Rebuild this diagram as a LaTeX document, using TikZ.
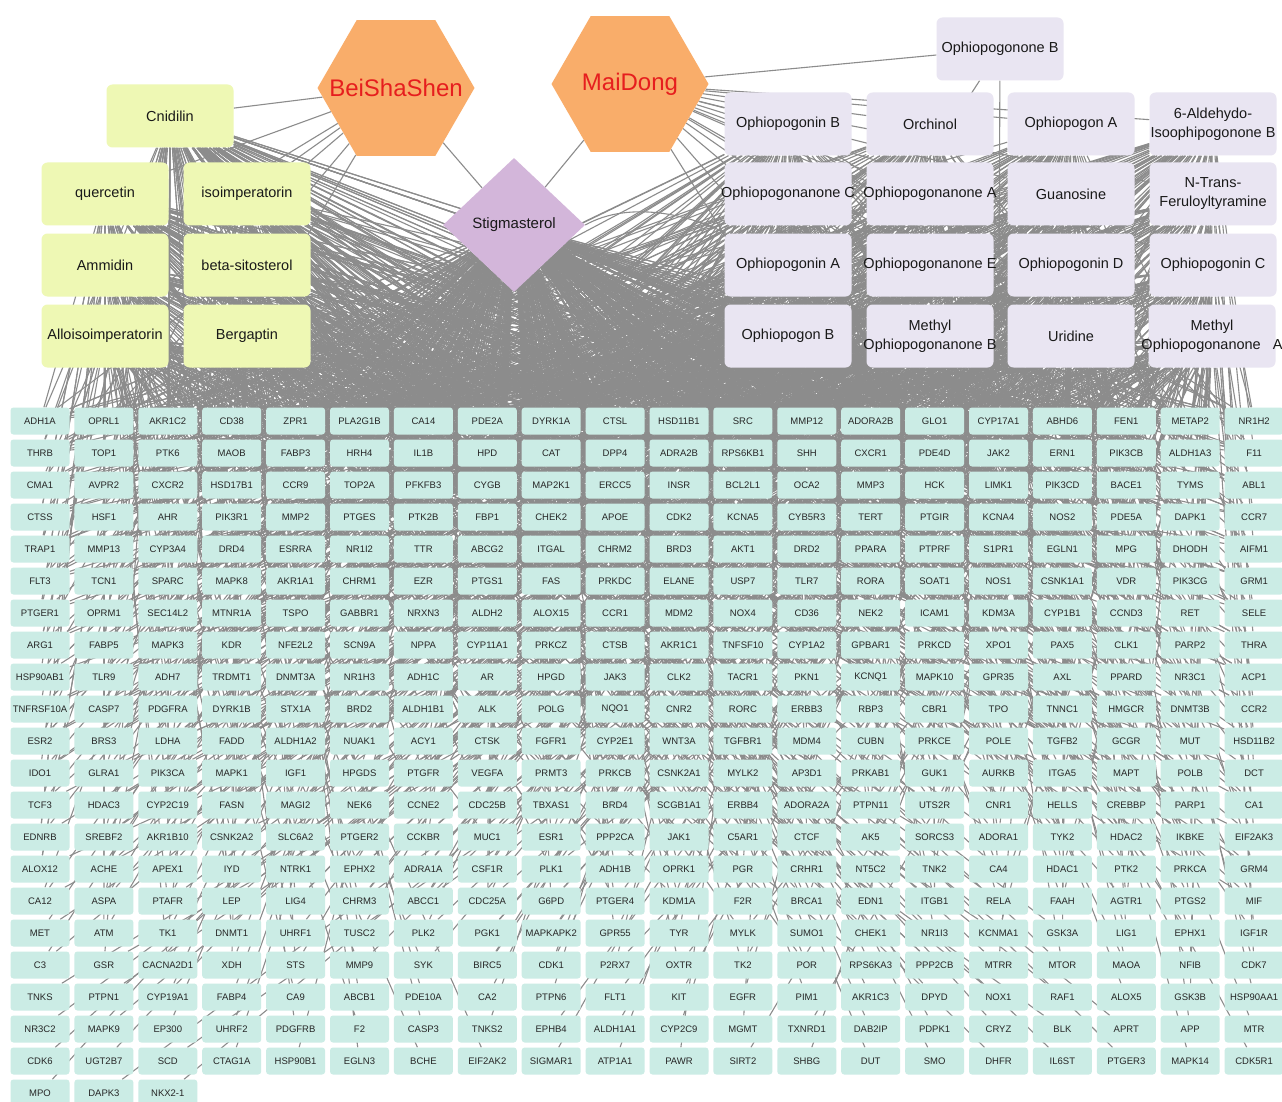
\documentclass[tikz,border=0pt]{standalone}
\usepackage{fontspec}
\setmainfont{Liberation Sans}
\usetikzlibrary{shapes.geometric,backgrounds}
\definecolor{herbfill}{HTML}{F9AD6A}
\definecolor{herbtext}{HTML}{E61E1E}
\definecolor{stigfill}{HTML}{D3B6DA}
\definecolor{yfill}{HTML}{EEF8B4}
\definecolor{pfill}{HTML}{E9E5F2}
\definecolor{gfill}{HTML}{CBECE5}
\definecolor{linkcol}{HTML}{8C8C8C}
\newcommand{\wide}[1]{\makebox[0pt][c]{#1}}
\newcommand{\cmpname}[1]{\ifcase#1 y0\or y1\or y2\or y3\or y4\or y5\or y6\or y0\or y1\or
  p1\or p2\or p3\or p4\or p5\or p6\or p7\or p8\or p9\or p10\or p11\or p12\or p13\or p14\or p15\or p16\or
  stig\or stig\or stig\or stig\or stig\else stig\fi}
\begin{document}
\begin{tikzpicture}
[x=1pt, y=-1pt,
gene/.style={rectangle, rounded corners=3pt, fill=gfill, text=black!85, minimum width=59pt, minimum height=27pt, inner sep=0pt, font=\fontsize{9.5}{11}\selectfont},
ybox/.style={rectangle, rounded corners=6pt, fill=yfill, text=black!90, minimum width=127pt, minimum height=63pt, inner sep=0pt, align=center, font=\fontsize{14.5}{19}\selectfont},
pbox/.style={ybox, fill=pfill},
herb/.style={regular polygon, regular polygon sides=6, fill=herbfill, minimum size=157pt, inner sep=0pt, text=herbtext, font=\fontsize{24}{28}\selectfont},
hub/.style={diamond, fill=stigfill, minimum width=142pt, minimum height=134pt, inner sep=0pt, text=black!90, font=\fontsize{15}{18}\selectfont},
link/.style={draw=linkcol, line width=1.1pt}]
\useasboundingbox (0,0) rectangle (1282,1102);

\node[herb] (bss) at (396,88) {\wide{BeiShaShen}};
\node[herb] (md) at (630,84) {\wide{MaiDong}};
\node[hub] (stig) at (514,225) {Stigmasterol};

\node[ybox] (y0) at (170,116) {Cnidilin};
\node[ybox] (y1) at (105,194) {quercetin};
\node[ybox] (y2) at (247,194) {isoimperatorin};
\node[ybox] (y3) at (105,265) {Ammidin};
\node[ybox] (y4) at (247,265) {beta-sitosterol};
\node[ybox] (y5) at (105,336) {Alloisoimperatorin};
\node[ybox] (y6) at (247,336) {Bergaptin};

\node[pbox] (p0) at (1000,49) {Ophiopogonone B};
\node[pbox] (p1) at (788,124) {Ophiopogonin B};
\node[pbox] (p2) at (930,124) {Orchinol};
\node[pbox] (p3) at (1071,124) {Ophiopogon A};
\node[pbox] (p4) at (1213,124) {\wide{6-Aldehydo-}\\\wide{Isoophipogonone B}};
\node[pbox] (p5) at (788,194) {\wide{Ophiopogonanone C}};
\node[pbox] (p6) at (930,194) {\wide{Ophiopogonanone A}};
\node[pbox] (p7) at (1071,194) {Guanosine};
\node[pbox] (p8) at (1213,194) {\wide{N-Trans-}\\\wide{Feruloyltyramine}};
\node[pbox] (p9) at (788,265) {Ophiopogonin A};
\node[pbox] (p10) at (930,265) {\wide{Ophiopogonanone E}};
\node[pbox] (p11) at (1071,265) {Ophiopogonin D};
\node[pbox] (p12) at (1213,265) {Ophiopogonin C};
\node[pbox] (p13) at (788,336) {Ophiopogon B};
\node[pbox] (p14) at (930,336) {\wide{Methyl}\\\wide{Ophiopogonanone B}};
\node[pbox] (p15) at (1071,336) {Uridine};
\node[pbox] (p16) at (1212,336) {\wide{Methyl}\\\wide{Ophiopogonanone~~~A}};

\foreach \gname [count=\i from 0] in {
ADH1A,OPRL1,AKR1C2,CD38,ZPR1,PLA2G1B,CA14,PDE2A,DYRK1A,CTSL,HSD11B1,SRC,MMP12,ADORA2B,GLO1,CYP17A1,ABHD6,FEN1,METAP2,NR1H2,
THRB,TOP1,PTK6,MAOB,FABP3,HRH4,IL1B,HPD,CAT,DPP4,ADRA2B,RPS6KB1,SHH,CXCR1,PDE4D,JAK2,ERN1,PIK3CB,ALDH1A3,F11,
CMA1,AVPR2,CXCR2,HSD17B1,CCR9,TOP2A,PFKFB3,CYGB,MAP2K1,ERCC5,INSR,BCL2L1,OCA2,MMP3,HCK,LIMK1,PIK3CD,BACE1,TYMS,ABL1,
CTSS,HSF1,AHR,PIK3R1,MMP2,PTGES,PTK2B,FBP1,CHEK2,APOE,CDK2,KCNA5,CYB5R3,TERT,PTGIR,KCNA4,NOS2,PDE5A,DAPK1,CCR7,
TRAP1,MMP13,CYP3A4,DRD4,ESRRA,NR1I2,TTR,ABCG2,ITGAL,CHRM2,BRD3,AKT1,DRD2,PPARA,PTPRF,S1PR1,EGLN1,MPG,DHODH,AIFM1,
FLT3,TCN1,SPARC,MAPK8,AKR1A1,CHRM1,EZR,PTGS1,FAS,PRKDC,ELANE,USP7,TLR7,RORA,SOAT1,NOS1,CSNK1A1,VDR,PIK3CG,GRM1,
PTGER1,OPRM1,SEC14L2,MTNR1A,TSPO,GABBR1,NRXN3,ALDH2,ALOX15,CCR1,MDM2,NOX4,CD36,NEK2,ICAM1,KDM3A,CYP1B1,CCND3,RET,SELE,
ARG1,FABP5,MAPK3,KDR,NFE2L2,SCN9A,NPPA,CYP11A1,PRKCZ,CTSB,AKR1C1,TNFSF10,CYP1A2,GPBAR1,PRKCD,XPO1,PAX5,CLK1,PARP2,THRA,
HSP90AB1,TLR9,ADH7,TRDMT1,DNMT3A,NR1H3,ADH1C,AR,HPGD,JAK3,CLK2,TACR1,PKN1,KCNQ1,MAPK10,GPR35,AXL,PPARD,NR3C1,ACP1,
TNFRSF10A,CASP7,PDGFRA,DYRK1B,STX1A,BRD2,ALDH1B1,ALK,POLG,NQO1,CNR2,RORC,ERBB3,RBP3,CBR1,TPO,TNNC1,HMGCR,DNMT3B,CCR2,
ESR2,BRS3,LDHA,FADD,ALDH1A2,NUAK1,ACY1,CTSK,FGFR1,CYP2E1,WNT3A,TGFBR1,MDM4,CUBN,PRKCE,POLE,TGFB2,GCGR,MUT,HSD11B2,
IDO1,GLRA1,PIK3CA,MAPK1,IGF1,HPGDS,PTGFR,VEGFA,PRMT3,PRKCB,CSNK2A1,MYLK2,AP3D1,PRKAB1,GUK1,AURKB,ITGA5,MAPT,POLB,DCT,
TCF3,HDAC3,CYP2C19,FASN,MAGI2,NEK6,CCNE2,CDC25B,TBXAS1,BRD4,SCGB1A1,ERBB4,ADORA2A,PTPN11,UTS2R,CNR1,HELLS,CREBBP,PARP1,CA1,
EDNRB,SREBF2,AKR1B10,CSNK2A2,SLC6A2,PTGER2,CCKBR,MUC1,ESR1,PPP2CA,JAK1,C5AR1,CTCF,AK5,SORCS3,ADORA1,TYK2,HDAC2,IKBKE,EIF2AK3,
ALOX12,ACHE,APEX1,IYD,NTRK1,EPHX2,ADRA1A,CSF1R,PLK1,ADH1B,OPRK1,PGR,CRHR1,NT5C2,TNK2,CA4,HDAC1,PTK2,PRKCA,GRM4,
CA12,ASPA,PTAFR,LEP,LIG4,CHRM3,ABCC1,CDC25A,G6PD,PTGER4,KDM1A,F2R,BRCA1,EDN1,ITGB1,RELA,FAAH,AGTR1,PTGS2,MIF,
MET,ATM,TK1,DNMT1,UHRF1,TUSC2,PLK2,PGK1,MAPKAPK2,GPR55,TYR,MYLK,SUMO1,CHEK1,NR1I3,KCNMA1,GSK3A,LIG1,EPHX1,IGF1R,
C3,GSR,CACNA2D1,XDH,STS,MMP9,SYK,BIRC5,CDK1,P2RX7,OXTR,TK2,POR,RPS6KA3,PPP2CB,MTRR,MTOR,MAOA,NFIB,CDK7,
TNKS,PTPN1,CYP19A1,FABP4,CA9,ABCB1,PDE10A,CA2,PTPN6,FLT1,KIT,EGFR,PIM1,AKR1C3,DPYD,NOX1,RAF1,ALOX5,GSK3B,HSP90AA1,
NR3C2,MAPK9,EP300,UHRF2,PDGFRB,F2,CASP3,TNKS2,EPHB4,ALDH1A1,CYP2C9,MGMT,TXNRD1,DAB2IP,PDPK1,CRYZ,BLK,APRT,APP,MTR,
CDK6,UGT2B7,SCD,CTAG1A,HSP90B1,EGLN3,BCHE,EIF2AK2,SIGMAR1,ATP1A1,PAWR,SIRT2,SHBG,DUT,SMO,DHFR,IL6ST,PTGER3,MAPK14,CDK5R1,
MPO,DAPK3,NKX2-1}{
  \pgfmathtruncatemacro\gr{int(\i/20)}
  \pgfmathtruncatemacro\gc{mod(\i,20)}
  \node[gene] (g\i) at ({40+63.9*\gc},{421+32*\gr}) {\gname};
}

\begin{pgfonlayer}{background}
\fill[white] (0,0) rectangle (1282,1102);
\foreach \k in {0,...,6} \draw[link] (bss) -- (y\k);
\draw[link] (bss) -- (stig);
\draw[link] (md) -- (stig);
\foreach \k in {0,...,16} \draw[link] (md) -- (p\k);
\draw[link] (stig.east) .. controls (630,200) and (690,215) .. (p9);
\draw[link] (p0) -- (g15);
\draw[link] (p0) -- (g208);
\foreach \i in {0,...,422}{
  \pgfmathtruncatemacro\gr{int(\i/20)}
  \pgfmathtruncatemacro\deg{max(1,round(9-0.42*\gr))}
  \foreach \j in {1,...,\deg}{
    \pgfmathtruncatemacro\idx{mod(\i*3+\gr+\j*7,31)}
    \edef\cn{\cmpname{\idx}}
    \draw[link] (\cn) -- (g\i);
  }
}
\end{pgfonlayer}
\end{tikzpicture}
\end{document}
